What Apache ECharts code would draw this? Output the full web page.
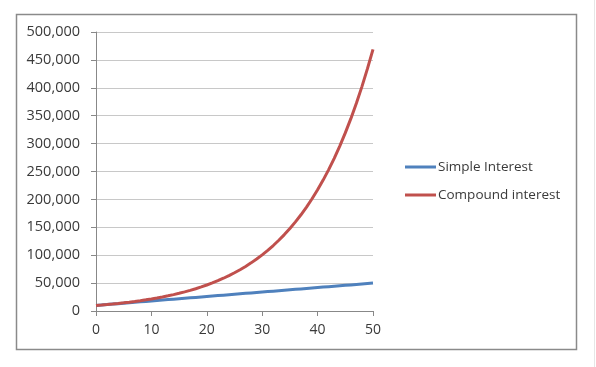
<!DOCTYPE html>
<html>
<head>
<meta charset="utf-8">
<script src="https://cdn.jsdelivr.net/npm/echarts@6/dist/echarts.min.js"></script>
<style>
html,body{margin:0;padding:0;background:#fff;}
#c{width:596px;height:367px;}
</style>
</head>
<body>
<div id="c"></div>
<script>
var years = [0,1,2,3,4,5,6,7,8,9,10,11,12,13,14,15,16,17,18,19,20,21,22,23,24,25,26,27,28,29,30,31,32,33,34,35,36,37,38,39,40,41,42,43,44,45,46,47,48,49,50];
var simpleInterest = [10000,10800,11600,12400,13200,14000,14800,15600,16400,17200,18000,18800,19600,20400,21200,22000,22800,23600,24400,25200,26000,26800,27600,28400,29200,30000,30800,31600,32400,33200,34000,34800,35600,36400,37200,38000,38800,39600,40400,41200,42000,42800,43600,44400,45200,46000,46800,47600,48400,49200,50000];
var compoundInterest = [10000,10800,11664,12597,13605,14693,15869,17138,18509,19990,21589,23316,25182,27196,29372,31722,34259,37000,39960,43157,46610,50338,54365,58715,63412,68485,73964,79881,86271,93173,100627,108677,117371,126760,136901,147853,159682,172456,186253,201153,217245,234625,253395,273666,295560,319204,344741,372320,402106,434274,469016];
var yTicks = [0,50000,100000,150000,200000,250000,300000,350000,400000,450000,500000];
var seriesNames = ['Simple Interest','Compound interest'];

function pairs(xs, ys){ return xs.map(function(x,i){ return [x, ys[i]]; }); }

var chart = echarts.init(document.getElementById('c'), null, {renderer:'canvas'});
var font = 'Open Sans';
chart.setOption({
  animation:false,
  backgroundColor:'#fff',
  textStyle:{fontFamily:font},
  graphic:[
    {type:'rect', shape:{x:16.5,y:14.5,width:560,height:335}, style:{fill:'none', stroke:'#8a8a8a', lineWidth:1.5}, z:-1},
    {type:'line', shape:{x1:594.5,y1:0,x2:594.5,y2:367}, style:{stroke:'#e6e6e6', lineWidth:1}}
  ],
  grid:{left:96, right:223, top:32, bottom:56, containLabel:false},
  legend:{
    orient:'vertical', left:405, top:160, padding:0, itemWidth:31, itemHeight:3, itemGap:14,
    icon:'rect',
    data:seriesNames,
    textStyle:{fontFamily:font, fontSize:13.5, color:'#3a3a3a', padding:[0,0,0,-3]}
  },
  xAxis:{
    type:'value', min:0, max:50, interval:10,
    axisLine:{show:true, lineStyle:{color:'#888888', width:1}},
    axisTick:{show:true, inside:false, length:5, lineStyle:{color:'#888888'}},
    axisLabel:{fontFamily:font, fontSize:14, color:'#3a3a3a', margin:12},
    splitLine:{show:false}
  },
  yAxis:{
    type:'value', min:0, max:500000, interval:50000,
    axisLine:{show:true, lineStyle:{color:'#888888', width:1}},
    axisTick:{show:true, length:5, lineStyle:{color:'#888888'}},
    axisLabel:{fontFamily:font, fontSize:14.5, color:'#3a3a3a', margin:16,
      formatter:function(v){ return v.toLocaleString('en-US'); }},
    splitLine:{show:true, lineStyle:{color:'#c8c8c8', width:1}}
  },
  series:[
    {name:seriesNames[0], type:'line', z:2, data:pairs(years, simpleInterest), symbol:'none', lineStyle:{color:'#4F81BD', width:3}, itemStyle:{color:'#4F81BD'}},
    {name:seriesNames[1], type:'line', z:3, data:pairs(years, compoundInterest), symbol:'none', lineStyle:{color:'#C0504D', width:3}, itemStyle:{color:'#C0504D'}}
  ]
});
</script>
</body>
</html>
